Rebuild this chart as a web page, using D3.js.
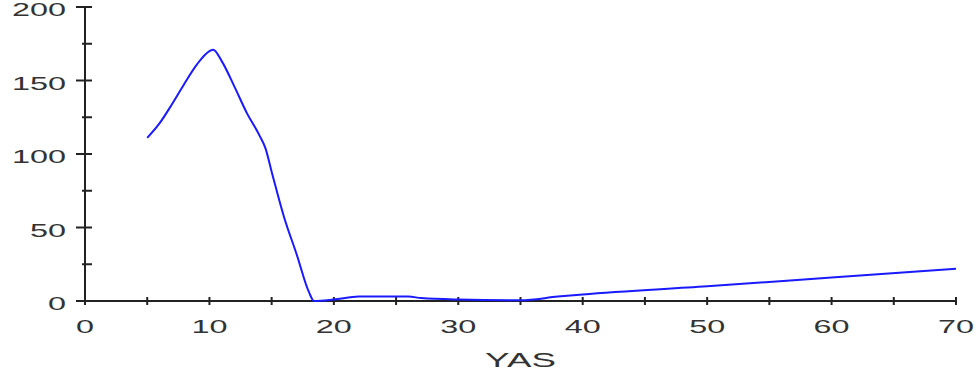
<!DOCTYPE html>
<html>
<head>
<meta charset="utf-8">
<script src="https://cdn.jsdelivr.net/npm/d3@7"></script>
<style>
  body { margin: 0; background: #fff; }
  text { font-family: "Liberation Sans", Arial, sans-serif; fill: #333; }
</style>
</head>
<body>
<div id="chart"></div>
<script>
// age (x) and value (y)
var ages   = [5, 6, 7, 8, 9, 10, 10.3, 11, 12, 13, 14, 14.5, 15, 16, 17, 18, 18.4, 20, 22, 26, 27, 30, 35, 38, 40, 50, 60, 70];
var values = [111, 121, 134, 148, 161, 170, 171, 163, 146, 128, 113, 104, 88, 57, 32, 6, 0, 1, 3, 3, 2, 1, 0.5, 3, 4.5, 10, 16, 22];
var xTicks = [0, 10, 20, 30, 40, 50, 60, 70];
var yTicks = [0, 50, 100, 150, 200];
var xLabel = "YAS";

var margin = {top: 7, right: 23, bottom: 75, left: 85},
    width = 979 - margin.left - margin.right,
    height = 376 - margin.top - margin.bottom;

var stretch = 1.8;

var x = d3.scaleLinear().domain([0, 70]).range([0, width]);
var y = d3.scaleLinear().domain([0, 200]).range([height, 0]);

var svg = d3.select("#chart").append("svg")
    .attr("width", width + margin.left + margin.right)
    .attr("height", height + margin.top + margin.bottom)
  .append("g")
    .attr("transform", "translate(" + margin.left + "," + margin.top + ")");

// x axis line + ticks every 5
svg.append("line")
    .attr("x1", 0).attr("x2", x(70))
    .attr("y1", height).attr("y2", height)
    .attr("stroke", "#222").attr("stroke-width", 2);

svg.selectAll(".xtick")
    .data(d3.range(0, 71, 5))
    .enter().append("line")
    .attr("x1", d => x(d)).attr("x2", d => x(d))
    .attr("y1", height - 4).attr("y2", height + 4)
    .attr("stroke", "#222").attr("stroke-width", 2);

svg.selectAll(".xlab")
    .data(xTicks)
    .enter().append("text")
    .attr("transform", d => "translate(" + x(d) + "," + (height + 32) + ") scale(" + stretch + ",1)")
    .style("text-anchor", "middle")
    .style("font-size", "18px")
    .text(d => d);

// y axis line + ticks every 25
svg.append("line")
    .attr("x1", 0).attr("x2", 0)
    .attr("y1", y(0)).attr("y2", y(200))
    .attr("stroke", "#222").attr("stroke-width", 2);

svg.selectAll(".ytick")
    .data(d3.range(0, 201, 25))
    .enter().append("line")
    .attr("x1", d => d % 50 === 0 ? -9 : -3).attr("x2", 7)
    .attr("y1", d => y(d)).attr("y2", d => y(d))
    .attr("stroke", "#222").attr("stroke-width", 2);

svg.selectAll(".ylab")
    .data(yTicks)
    .enter().append("text")
    .attr("transform", d => "translate(-19," + (y(d) + 9) + ") scale(" + stretch + ",1)")
    .style("text-anchor", "end")
    .style("font-size", "18px")
    .text(d => d);

// axis title
svg.append("text")
    .attr("transform", "translate(" + x(35) + "," + (height + 66) + ") scale(1.75,1)")
    .style("text-anchor", "middle")
    .style("font-size", "21px")
    .text(xLabel);

// the line
var line = d3.line()
    .x(d => x(d[0]))
    .y(d => y(d[1]))
    .curve(d3.curveMonotoneX);

svg.append("path")
    .datum(d3.zip(ages, values))
    .attr("fill", "none")
    .attr("stroke", "#1a1aff")
    .attr("stroke-width", 2)
    .attr("d", line);
</script>
</body>
</html>
